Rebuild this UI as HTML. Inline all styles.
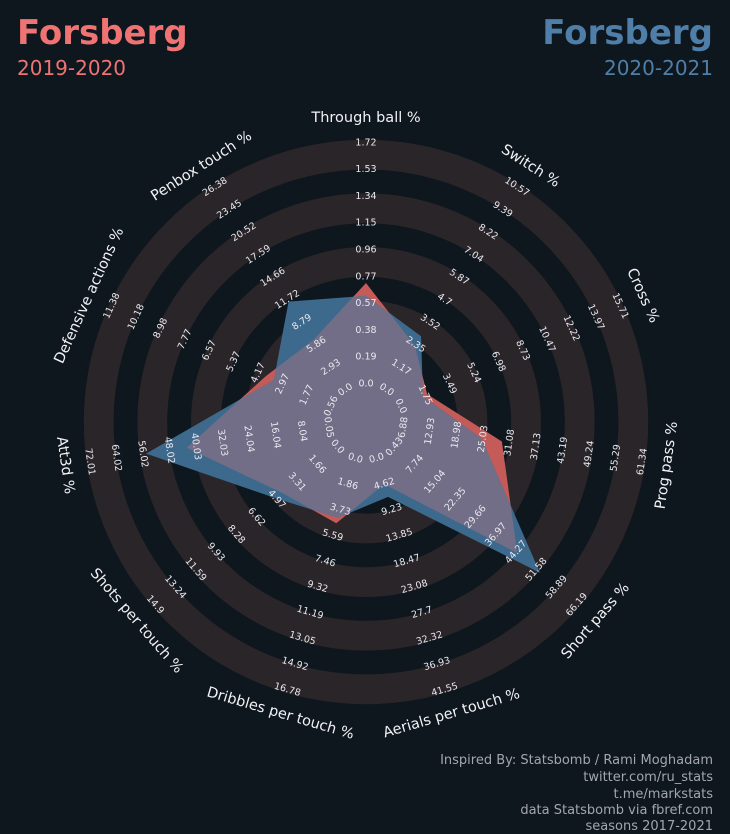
<!DOCTYPE html>
<html><head><meta charset="utf-8">
<style>
html,body{margin:0;padding:0;background:#0e161e;}
svg{display:block;font-family:"DejaVu Sans","Liberation Sans",sans-serif;}
</style></head>
<body>
<svg id="chart" width="730" height="834" viewBox="0 0 730 834" xmlns="http://www.w3.org/2000/svg">
<rect x="0" y="0" width="730" height="834" fill="#0e161e"/>
<text x="17" y="44" font-size="34" font-weight="bold" fill="#f07373">Forsberg</text>
<text x="17" y="75" font-size="20" fill="#f07373">2019-2020</text>
<text x="713" y="44" font-size="34" font-weight="bold" fill="#4f7fa8" text-anchor="end">Forsberg</text>
<text x="713" y="75" font-size="20" fill="#4f7fa8" text-anchor="end">2020-2021</text>
<g id="rings"></g>
<g id="polys"></g>
<g id="ticks"></g>
<g id="axlabels"></g>
<g font-size="13" fill="#a4a6ae" text-anchor="end">
<text x="713" y="764">Inspired By: Statsbomb / Rami Moghadam</text>
<text x="713" y="781">twitter.com/ru_stats</text>
<text x="713" y="798">t.me/markstats</text>
<text x="713" y="814">data Statsbomb via fbref.com</text>
<text x="713" y="830">seasons 2017-2021</text>
</g>
</svg>
<script>
const categories = ["Through ball %","Switch %","Cross %","Prog pass %","Short pass %","Aerials per touch %","Dribbles per touch %","Shots per touch %","Att3d %","Defensive actions %","Penbox touch %"];
const series2019 = [0.72, 2.3, 1.9, 29.3, 44.6, 4.6, 4.7, 4.4, 42.7, 3.8, 6.5];
const series2020 = [0.63, 2.8, 1.6, 24.7, 52.8, 6.9, 4.3, 4.9, 55.0, 3.4, 11.5];
const ticksThrough = ["0.0","0.19","0.38","0.57","0.77","0.96","1.15","1.34","1.53","1.72"];
const ticksSwitch = ["0.0","1.17","2.35","3.52","4.7","5.87","7.04","8.22","9.39","10.57"];
const ticksCross = ["0.0","1.75","3.49","5.24","6.98","8.73","10.47","12.22","13.97","15.71"];
const ticksProg = ["6.88","12.93","18.98","25.03","31.08","37.13","43.19","49.24","55.29","61.34"];
const ticksShort = ["0.43","7.74","15.04","22.35","29.66","36.97","44.27","51.58","58.89","66.19"];
const ticksAerial = ["0.0","4.62","9.23","13.85","18.47","23.08","27.7","32.32","36.93","41.55"];
const ticksDribble = ["0.0","1.86","3.73","5.59","7.46","9.32","11.19","13.05","14.92","16.78"];
const ticksShots = ["0.0","1.66","3.31","4.97","6.62","8.28","9.93","11.59","13.24","14.9"];
const ticksAtt3d = ["0.05","8.04","16.04","24.04","32.03","40.03","48.02","56.02","64.02","72.01"];
const ticksDef = ["0.56","1.77","2.97","4.17","5.37","6.57","7.77","8.98","10.18","11.38"];
const ticksPenbox = ["0.0","2.93","5.86","8.79","11.72","14.66","17.59","20.52","23.45","26.38"];
const tickSets = [ticksThrough,ticksSwitch,ticksCross,ticksProg,ticksShort,ticksAerial,ticksDribble,ticksShots,ticksAtt3d,ticksDef,ticksPenbox];

const NS="http://www.w3.org/2000/svg";
const CX=366, CY=422, R0=38, STEP=26.8, NT=10, RMAX=R0+STEP*(NT-1), RLAB=304;
const N=categories.length;
function ang(i){return i*360/N;}
function pt(i,r){const a=ang(i)*Math.PI/180;return [CX+r*Math.sin(a), CY-r*Math.cos(a)];}
function rScale(i,v){const t=tickSets[i];const mn=parseFloat(t[0]),mx=parseFloat(t[t.length-1]);return R0+(v-mn)/(mx-mn)*(RMAX-R0);}
function rot(i){const a=ang(i);return (a>90&&a<270)?a-180:a;}

const rings=document.getElementById('rings');
for(let t=0;t<NT-1;t+=2){
  const r1=R0+STEP*t, r2=R0+STEP*(t+1)+3;
  const c=document.createElementNS(NS,'circle');
  
  
  c.setAttribute('cx',CX);c.setAttribute('cy',CY);c.setAttribute('r',(r1+r2)/2);
  c.setAttribute('fill','none');c.setAttribute('stroke','#2a2529');c.setAttribute('stroke-width',r2-r1);
  rings.appendChild(c);
}

function polyPoints(vals){return vals.map((v,i)=>pt(i,rScale(i,v)).map(n=>n.toFixed(1)).join(',')).join(' ');}
const polys=document.getElementById('polys');
const defs=document.createElementNS(NS,'defs');
const cp=document.createElementNS(NS,'clipPath');cp.setAttribute('id','redclip');
const cpp=document.createElementNS(NS,'polygon');cpp.setAttribute('points',polyPoints(series2019));
cp.appendChild(cpp);defs.appendChild(cp);polys.appendChild(defs);
const pr=document.createElementNS(NS,'polygon');


pr.setAttribute('points',polyPoints(series2019));pr.setAttribute('fill','#c45b59');
polys.appendChild(pr);
const pb=document.createElementNS(NS,'polygon');


pb.setAttribute('points',polyPoints(series2020));pb.setAttribute('fill','#3d6a8c');
polys.appendChild(pb);
const po=document.createElementNS(NS,'polygon');


po.setAttribute('points',polyPoints(series2020));po.setAttribute('fill','#736e88');po.setAttribute('clip-path','url(#redclip)');
polys.appendChild(po);

const ticks=document.getElementById('ticks');
for(let i=0;i<N;i++){
  for(let t=0;t<NT;t++){
    const [x,y]=pt(i,R0+STEP*t);
    const tx=document.createElementNS(NS,'text');
    
    
    tx.setAttribute('x',x.toFixed(1));tx.setAttribute('y',y.toFixed(1));
    tx.setAttribute('font-size','9.5');tx.setAttribute('fill','#e8e8ee');
    tx.setAttribute('text-anchor','middle');tx.setAttribute('dominant-baseline','central');
    tx.setAttribute('transform','rotate('+rot(i).toFixed(1)+' '+x.toFixed(1)+' '+y.toFixed(1)+')');
    tx.textContent=tickSets[i][t];
    ticks.appendChild(tx);
  }
}
const axl=document.getElementById('axlabels');
for(let i=0;i<N;i++){
  const [x,y]=pt(i,RLAB);
  const tx=document.createElementNS(NS,'text');
  
  
  tx.setAttribute('x',x.toFixed(1));tx.setAttribute('y',y.toFixed(1));
  tx.setAttribute('font-size','14.5');tx.setAttribute('fill','#f2f2f4');
  tx.setAttribute('text-anchor','middle');tx.setAttribute('dominant-baseline','central');
  tx.setAttribute('transform','rotate('+rot(i).toFixed(1)+' '+x.toFixed(1)+' '+y.toFixed(1)+')');
  tx.textContent=categories[i];
  axl.appendChild(tx);
}
</script>
</body></html>
